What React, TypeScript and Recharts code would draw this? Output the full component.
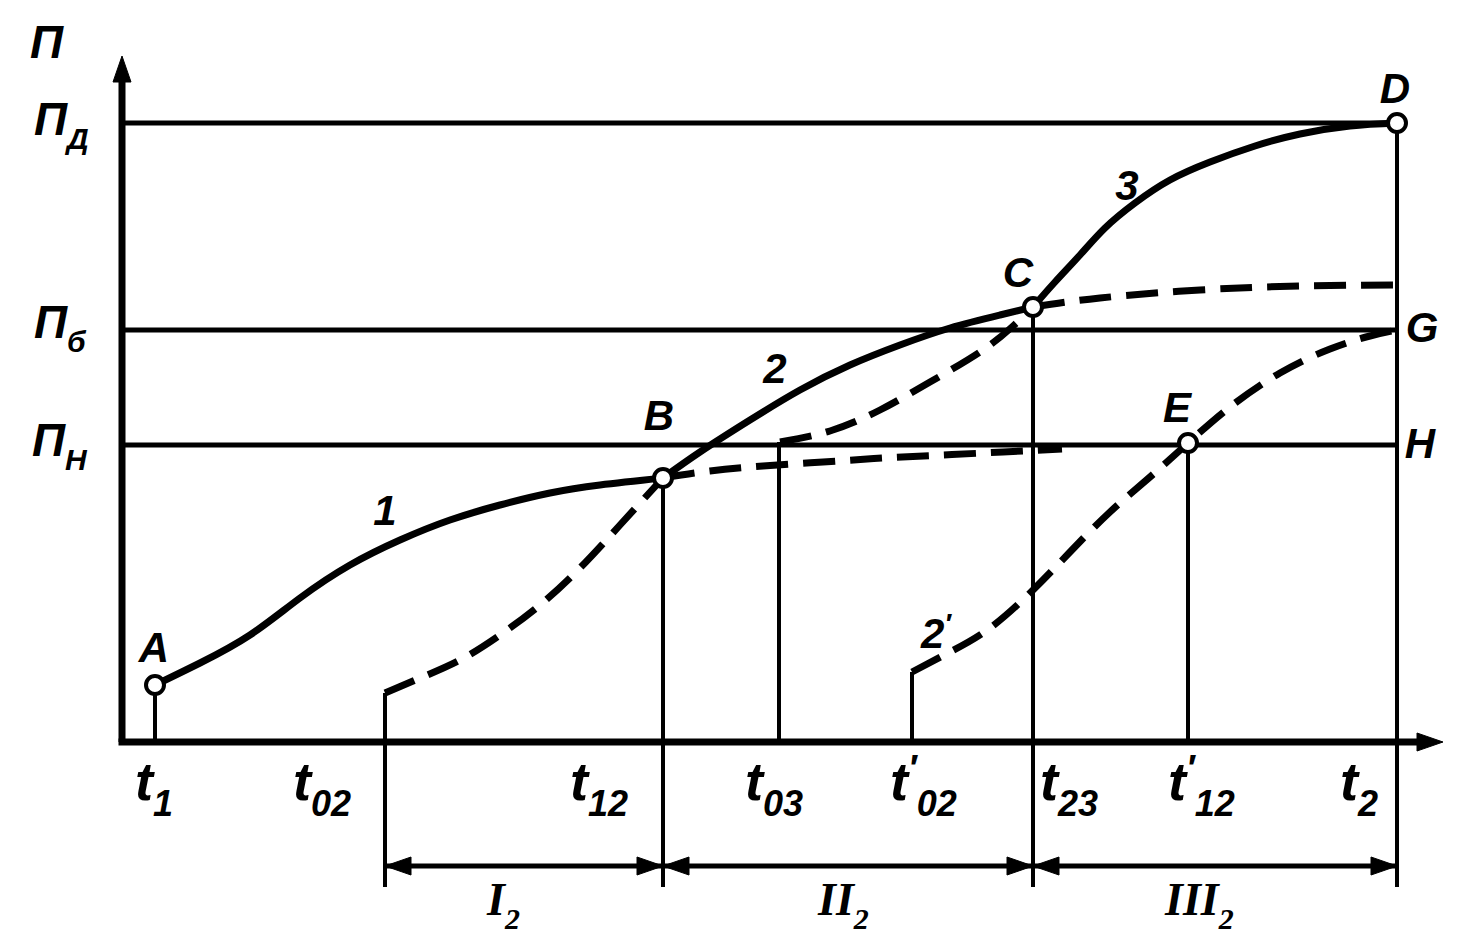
import { ComposedChart, Line, XAxis, YAxis, ReferenceLine, ReferenceDot } from 'recharts'

// Schematic: three-stage growth curves П(t) with switch points A..H.
// Units: t in tenths of the drawing width from the П axis, П likewise.

const INK = '#000'
const FONT = "'Liberation Sans Narrow', 'Liberation Sans', Arial, sans-serif"
const SERIF = "'Liberation Serif', 'DejaVu Serif', serif"

type Pt = { t: number; v: number }

// levels
const P_D = 61.9
const P_G = 41.2
const P_H = 29.7

// time marks on the axis
const T1 = 3.3
const T02 = 26.3
const T12 = 54.1
const T03 = 65.7
const T02p = 79.0
const T23 = 91.1
const T12p = 106.6
const T2 = 127.5
const DIM_Y = -12.4
const DIM_LOW = -14.5

// curve 1: A -> B (solid), then flattening towards П_H (dashed)
const curve1: Pt[] = [
  { t: 3.3, v: 5.7 }, { t: 7.8, v: 7.9 }, { t: 12.8, v: 10.7 }, { t: 17.8, v: 14.4 },
  { t: 22.8, v: 17.7 }, { t: 27.8, v: 20.2 }, { t: 32.8, v: 22.2 }, { t: 37.8, v: 23.7 },
  { t: 42.8, v: 24.9 }, { t: 47.8, v: 25.7 }, { t: 54.1, v: 26.4 },
]
const curve1Tail: Pt[] = [
  { t: 54.1, v: 26.4 }, { t: 58.8, v: 27.1 }, { t: 64.1, v: 27.6 }, { t: 70.1, v: 28.0 },
  { t: 76.1, v: 28.4 }, { t: 82.1, v: 28.7 }, { t: 88.1, v: 29.0 }, { t: 94.0, v: 29.3 },
]
// curve 2: dashed from t02 to B, solid B -> C, dashed after C
const curve2Head: Pt[] = [
  { t: 26.3, v: 4.9 }, { t: 29.8, v: 6.4 }, { t: 33.8, v: 8.2 }, { t: 37.8, v: 10.7 },
  { t: 41.8, v: 13.7 }, { t: 45.8, v: 17.4 }, { t: 49.8, v: 21.7 }, { t: 54.1, v: 26.4 },
]
const curve2: Pt[] = [
  { t: 54.1, v: 26.4 }, { t: 57.8, v: 29.0 }, { t: 62.8, v: 32.2 }, { t: 67.8, v: 35.2 },
  { t: 72.8, v: 37.7 }, { t: 77.8, v: 39.7 }, { t: 82.8, v: 41.4 }, { t: 87.8, v: 42.7 },
  { t: 91.1, v: 43.5 },
]
const curve2Tail: Pt[] = [
  { t: 91.1, v: 43.5 }, { t: 97.8, v: 44.4 }, { t: 107.8, v: 45.2 }, { t: 117.8, v: 45.6 },
  { t: 127.5, v: 45.7 },
]
// curve 3: dashed from t03 to C, solid C -> D
const curve3Head: Pt[] = [
  { t: 65.8, v: 30.0 }, { t: 70.8, v: 31.1 }, { t: 75.8, v: 33.2 }, { t: 80.8, v: 36.0 },
  { t: 85.8, v: 39.0 }, { t: 89.0, v: 41.5 }, { t: 91.1, v: 43.5 },
]
const curve3: Pt[] = [
  { t: 91.1, v: 43.5 }, { t: 93.3, v: 46.0 }, { t: 95.8, v: 48.7 }, { t: 98.3, v: 51.4 },
  { t: 101.3, v: 53.9 }, { t: 104.8, v: 56.2 }, { t: 108.8, v: 58.0 }, { t: 113.3, v: 59.6 },
  { t: 117.8, v: 60.8 }, { t: 122.8, v: 61.6 }, { t: 127.5, v: 61.9 },
]
// curve 2': dashed from t'02 through E to G
const curve2p: Pt[] = [
  { t: 79.0, v: 7.0 }, { t: 82.8, v: 9.0 }, { t: 86.8, v: 11.4 }, { t: 91.1, v: 15.2 },
  { t: 94.8, v: 19.0 }, { t: 98.8, v: 23.0 }, { t: 102.8, v: 26.5 }, { t: 106.6, v: 29.9 },
  { t: 110.8, v: 33.5 }, { t: 115.8, v: 36.9 }, { t: 120.8, v: 39.3 }, { t: 124.8, v: 40.6 },
  { t: 127.5, v: 41.2 },
]

// marked points (open circles)
const nodes: Pt[] = [
  { t: 3.3, v: 5.7 }, { t: 54.1, v: 26.4 }, { t: 91.1, v: 43.5 }, { t: 127.5, v: 61.9 }, { t: 106.6, v: 29.9 },
]

// vertical guide lines: [t, from, to]
const verticals: [number, number, number][] = [
  [T1, 0, 5.7], [T02, DIM_LOW, 4.9], [T12, DIM_LOW, 26.4], [T03, 0, 30.0],
  [T02p, 0, 7.0], [T23, DIM_LOW, 43.5], [T12p, 0, 29.9], [T2, DIM_LOW, P_D],
]

// text labels: position is baseline (left or centre)
type Lab = { t: number; v: number; text: string; sub?: string; prime?: boolean; size: number; anchor?: 'start' | 'middle'; serif?: boolean }
const axisLabels: Lab[] = [
  { t: -9.2, v: 68.4, text: 'П', size: 46 },
  { t: -8.8, v: 60.7, text: 'П', sub: 'Д', size: 46 },
  { t: -8.8, v: 40.4, text: 'П', sub: 'б', size: 46 },
  { t: -9.0, v: 28.6, text: 'П', sub: 'Н', size: 46 },
]
const tickLabels: Lab[] = [
  { t: 1.3, v: -5.8, text: 't', sub: '1', size: 54 },
  { t: 17.1, v: -5.8, text: 't', sub: '02', size: 54 },
  { t: 44.8, v: -5.8, text: 't', sub: '12', size: 54 },
  { t: 62.3, v: -5.8, text: 't', sub: '03', size: 54 },
  { t: 76.8, v: -5.8, text: 't', sub: '02', prime: true, size: 54 },
  { t: 91.8, v: -5.8, text: 't', sub: '23', size: 54 },
  { t: 104.6, v: -5.8, text: 't', sub: '12', prime: true, size: 54 },
  { t: 121.8, v: -5.8, text: 't', sub: '2', size: 54 },
]
const stageLabels: Lab[] = [
  { t: 36.5, v: -17.3, text: 'I', sub: '2', size: 46, serif: true },
  { t: 69.6, v: -17.3, text: 'II', sub: '2', size: 46, serif: true },
  { t: 104.3, v: -17.3, text: 'III', sub: '2', size: 46, serif: true },
]
const pointLabels: Lab[] = [
  { t: 3.2, v: 8.0, text: 'A', size: 42, anchor: 'middle' },
  { t: 53.7, v: 31.2, text: 'B', size: 42, anchor: 'middle' },
  { t: 89.6, v: 45.5, text: 'C', size: 42, anchor: 'middle' },
  { t: 127.3, v: 63.9, text: 'D', size: 42, anchor: 'middle' },
  { t: 105.5, v: 32.0, text: 'E', size: 42, anchor: 'middle' },
  { t: 130.0, v: 40.0, text: 'G', size: 42, anchor: 'middle' },
  { t: 129.8, v: 28.4, text: 'H', size: 42, anchor: 'middle' },
  { t: 26.3, v: 21.7, text: '1', size: 42, anchor: 'middle' },
  { t: 65.3, v: 35.9, text: '2', size: 42, anchor: 'middle' },
  { t: 100.5, v: 54.2, text: '3', size: 42, anchor: 'middle' },
  { t: 81.4, v: 9.4, text: '2', prime: true, size: 42, anchor: 'middle' },
]

// arrow heads: tip position and direction
type Arr = { t: number; v: number; dir: 'up' | 'right' | 'left' }
const arrows: Arr[] = [
  { t: 0, v: 68.6, dir: 'up' },
  { t: 132.1, v: 0, dir: 'right' },
  { t: T02, v: DIM_Y, dir: 'left' },
  { t: T12, v: DIM_Y, dir: 'right' },
  { t: T12, v: DIM_Y, dir: 'left' },
  { t: T23, v: DIM_Y, dir: 'right' },
  { t: T23, v: DIM_Y, dir: 'left' },
  { t: T2, v: DIM_Y, dir: 'right' },
]

function Tag(p: any) {
  const { cx, cy, lab } = p
  if (cx == null || cy == null) return <g />
  const l: Lab = lab
  const ss = Math.round(l.size * 0.66)
  return (
    <text x={cx} y={cy} fontFamily={l.serif ? SERIF : FONT} fontStyle="italic" fontWeight="bold"
      fontSize={l.size} fill={INK} textAnchor={l.anchor ?? 'start'}>
      {l.text}
      {l.prime && <tspan dy={-l.size * 0.35} fontSize={ss}>′</tspan>}
      {l.sub && (
        <tspan dy={l.prime ? l.size * 0.35 + ss * 0.45 : ss * 0.45} fontSize={ss}>
          {l.sub}
        </tspan>
      )}
    </text>
  )
}

function Head(p: any) {
  const { cx, cy, dir } = p
  if (cx == null || cy == null) return <g />
  const L = 26
  const W = 9
  let d = ''
  if (dir === 'up') d = `M${cx},${cy} L${cx - W},${cy + L} L${cx + W},${cy + L} Z`
  else if (dir === 'right') d = `M${cx},${cy} L${cx - L},${cy - W} L${cx - L},${cy + W} Z`
  else d = `M${cx},${cy} L${cx + L},${cy - W} L${cx + L},${cy + W} Z`
  return <path d={d} fill={INK} stroke={INK} strokeWidth={1} />
}

function Curve({ data, dashed }: { data: Pt[]; dashed?: boolean }) {
  return (
    <Line data={data} dataKey="v" type="natural" stroke={INK} strokeWidth={7}
      strokeDasharray={dashed ? '32 15' : undefined} dot={false} activeDot={false}
      isAnimationActive={false} strokeLinecap="butt" />
  )
}

export default function App() {
  const allLabels = [...axisLabels, ...tickLabels, ...stageLabels, ...pointLabels]
  return (
    <div style={{ width: 1478, height: 938, background: '#fff' }}>
      <style>{'body{margin:0;background:#fff}'}</style>
      <ComposedChart width={1478} height={938} margin={{ top: 0, right: 0, bottom: 0, left: 0 }}>
        <XAxis type="number" dataKey="t" domain={[-12.2, 135.6]} allowDataOverflow hide />
        <YAxis type="number" dataKey="v" domain={[-19.6, 74.2]} allowDataOverflow hide />

        {/* axes */}
        <ReferenceLine segment={[{ x: 0, y: 0 }, { x: 0, y: 66.5 }]} stroke={INK} strokeWidth={7} ifOverflow="visible" />
        <ReferenceLine segment={[{ x: -0.35, y: 0 }, { x: 130, y: 0 }]} stroke={INK} strokeWidth={7} ifOverflow="visible" />

        {/* levels */}
        {[P_D, P_G, P_H].map((lv) => (
          <ReferenceLine key={lv} segment={[{ x: 0, y: lv }, { x: T2, y: lv }]} stroke={INK} strokeWidth={5} ifOverflow="visible" />
        ))}

        {/* verticals */}
        {verticals.map(([t, a, b]) => (
          <ReferenceLine key={`v${t}`} segment={[{ x: t, y: a }, { x: t, y: b }]} stroke={INK} strokeWidth={4} ifOverflow="visible" />
        ))}

        {/* dimension line */}
        <ReferenceLine segment={[{ x: T02, y: DIM_Y }, { x: T2, y: DIM_Y }]} stroke={INK} strokeWidth={5} ifOverflow="visible" />

        <Curve data={curve1} />
        <Curve data={curve1Tail} dashed />
        <Curve data={curve2Head} dashed />
        <Curve data={curve2} />
        <Curve data={curve2Tail} dashed />
        <Curve data={curve3Head} dashed />
        <Curve data={curve3} />
        <Curve data={curve2p} dashed />

        {arrows.map((a, i) => (
          <ReferenceDot key={`a${i}`} x={a.t} y={a.v} ifOverflow="visible"
            shape={(p: any) => <Head {...p} dir={a.dir} />} />
        ))}

        {nodes.map((n, i) => (
          <ReferenceDot key={`n${i}`} x={n.t} y={n.v} r={9} fill="#fff" stroke={INK} strokeWidth={4} ifOverflow="visible" />
        ))}

        {allLabels.map((l, i) => (
          <ReferenceDot key={`l${i}`} x={l.t} y={l.v} ifOverflow="visible"
            shape={(p: any) => <Tag {...p} lab={l} />} />
        ))}
      </ComposedChart>
    </div>
  )
}
